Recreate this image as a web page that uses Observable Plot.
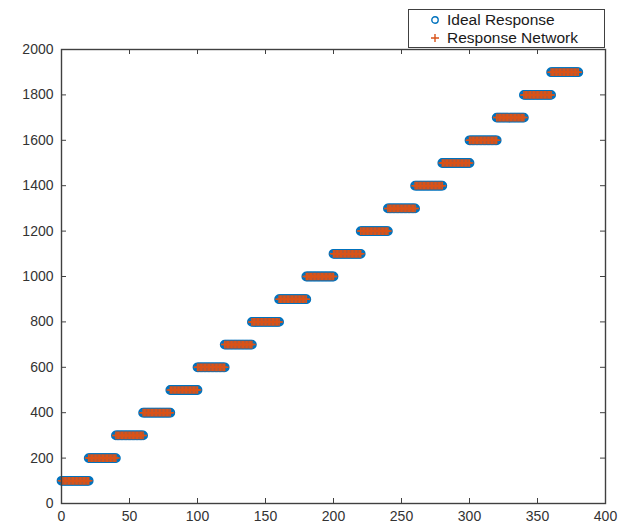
<!DOCTYPE html>
<html>
<head>
<meta charset="utf-8">
<script src="https://cdn.jsdelivr.net/npm/d3@7"></script>
<script src="https://cdn.jsdelivr.net/npm/@observablehq/plot@0.6"></script>
<style>
  body { margin: 0; background: #fff; }
  #wrap { position: relative; width: 632px; height: 524px; font-family: "Liberation Sans", Arial, sans-serif; }
  #legend { position: absolute; left: 408px; top: 9px; width: 197px; height: 39px; background: #fff; border: 1px solid #404040; box-sizing: border-box; font-size: 15.5px; color: #1a1a1a; }
  .row { position: absolute; left: 0; height: 18px; line-height: 18px; }
  .row span.t { position: absolute; left: 38px; white-space: nowrap; }
  .sym { position: absolute; left: 22px; top: 5px; width: 8px; height: 8px; }
</style>
</head>
<body>
<div id="wrap">
  <div id="chart"></div>
  <div id="legend">
    <div class="row" style="top:1px"><svg class="sym" viewBox="0 0 8 8"><circle cx="4" cy="4" r="3.2" fill="none" stroke="#0072BD" stroke-width="1.4"/></svg><span class="t">Ideal Response</span></div>
    <div class="row" style="top:19px"><svg class="sym" viewBox="0 0 8 8"><path d="M4 0V8M0 4H8" stroke="#D95319" stroke-width="1.4"/></svg><span class="t">Response Network</span></div>
  </div>
</div>
<script>
// Step levels (each level held over one block of samples)
const stepStart = [0, 20, 40, 60, 80, 100, 120, 140, 160, 180, 200, 220, 240, 260, 280, 300, 320, 340, 360];
const stepEnd   = [20, 40, 60, 80, 100, 120, 140, 160, 180, 200, 220, 240, 260, 280, 300, 320, 340, 360, 380];
const idealLevels   = [100, 200, 300, 400, 500, 600, 700, 800, 900, 1000, 1100, 1200, 1300, 1400, 1500, 1600, 1700, 1800, 1900];
const networkLevels = [100, 200, 300, 400, 500, 600, 700, 800, 900, 1000, 1100, 1200, 1300, 1400, 1500, 1600, 1700, 1800, 1900];
const xTicks = [0, 50, 100, 150, 200, 250, 300, 350, 400];
const yTicks = [0, 200, 400, 600, 800, 1000, 1200, 1400, 1600, 1800, 2000];

function expand(levels) {
  const out = [];
  levels.forEach((v, i) => {
    for (let s = stepStart[i]; s <= stepEnd[i]; s++) out.push({x: s, y: v});
  });
  return out;
}
const ideal = expand(idealLevels);
const network = expand(networkLevels);

const W = 632, H = 524;
const mL = 61, mR = 27, mT = 49, mB = 21;
const innerW = W - mL - mR, innerH = H - mT - mB;
const axisColor = "#404040";

const chart = Plot.plot({
  width: W,
  height: H,
  marginLeft: mL,
  marginRight: mR,
  marginTop: mT,
  marginBottom: mB,
  style: {fontFamily: "'Liberation Sans', Arial, sans-serif", fontSize: "14px", color: "#333", background: "#fff"},
  x: {domain: [0, 400]},
  y: {domain: [0, 2000]},
  marks: [
    Plot.dot(ideal, {x: "x", y: "y", r: 4, stroke: "#0072BD", strokeWidth: 1.8, fill: "none"}),
    Plot.dot(network, {x: "x", y: "y", r: 2.6, symbol: "plus", stroke: "#D95319", strokeWidth: 1.5}),
    Plot.tickX(xTicks, {x: d => d, insetTop: innerH - 5, stroke: axisColor}),
    Plot.tickX(xTicks, {x: d => d, insetBottom: innerH - 5, stroke: axisColor}),
    Plot.tickY(yTicks, {y: d => d, insetRight: innerW - 5, stroke: axisColor}),
    Plot.tickY(yTicks, {y: d => d, insetLeft: innerW - 5, stroke: axisColor}),
    Plot.frame({stroke: axisColor, strokeWidth: 1.4}),
    Plot.axisX(xTicks, {tickSize: 0, tickPadding: 8, label: null, fill: "#333", tickFormat: d => String(d)}),
    Plot.axisY(yTicks, {tickSize: 0, tickPadding: 8, label: null, fill: "#333", tickFormat: d => String(d)})
  ]
});
document.getElementById("chart").appendChild(chart);
</script>
</body>
</html>
